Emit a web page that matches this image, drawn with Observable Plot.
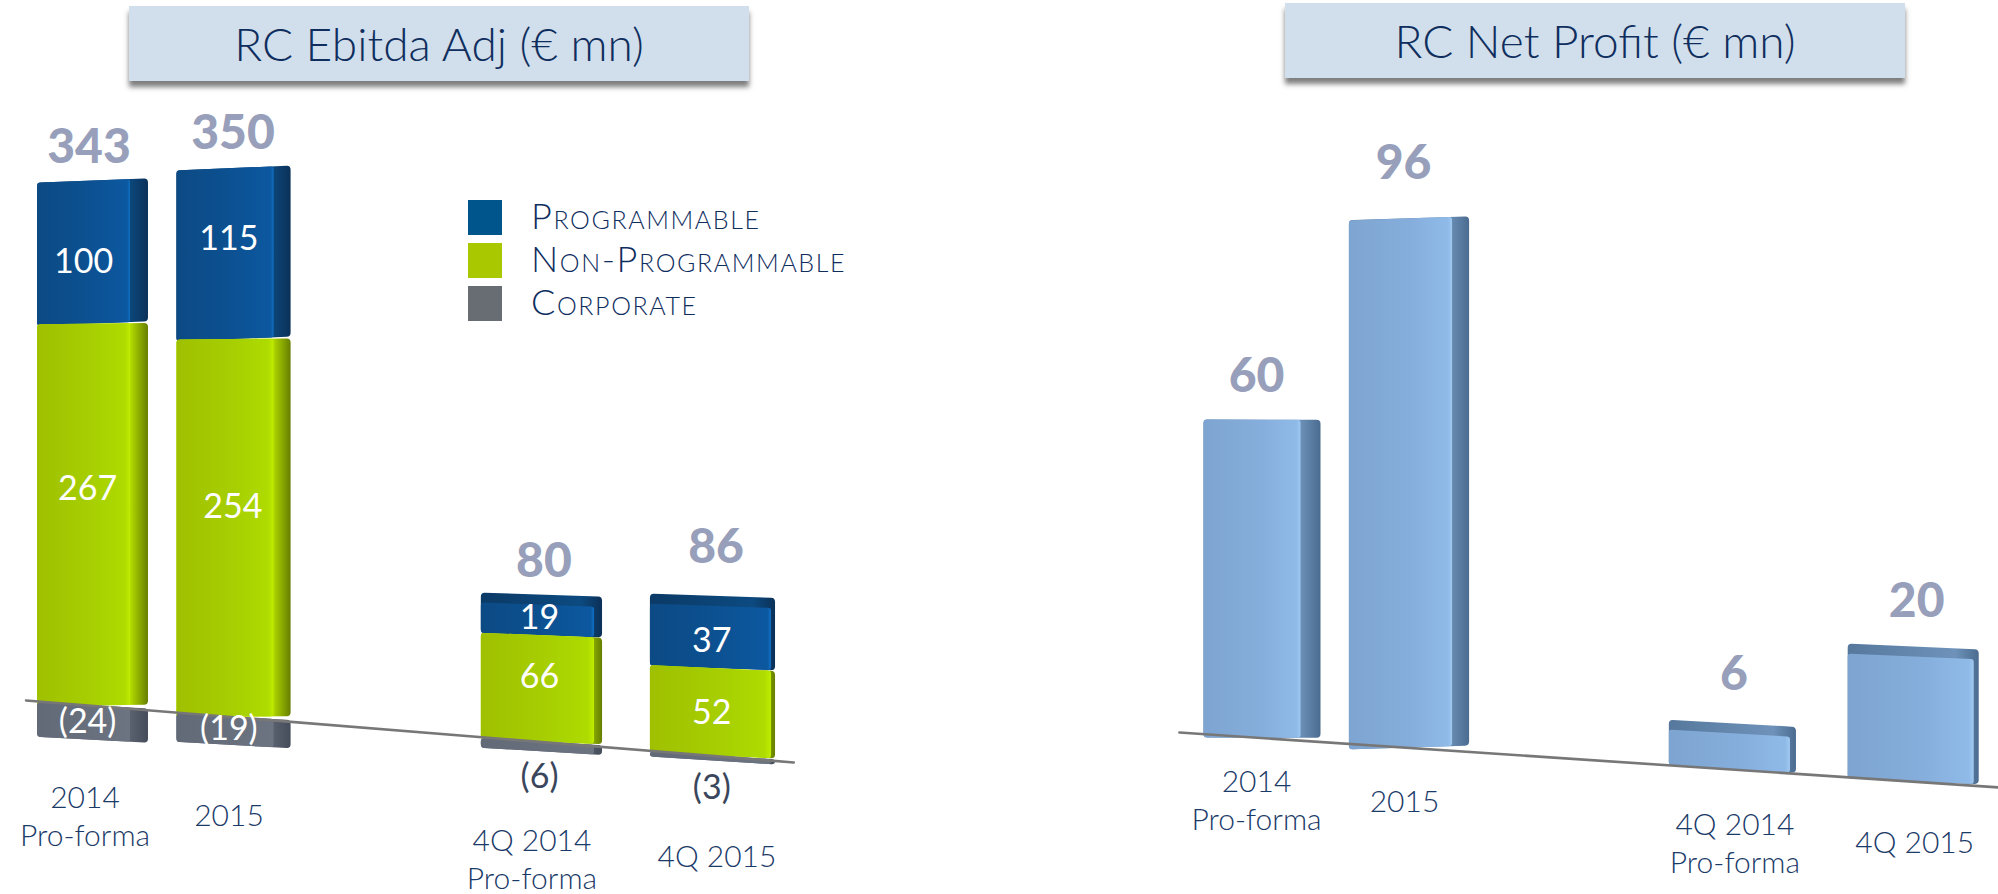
<!DOCTYPE html>
<html><head><meta charset="utf-8">
<script src="https://cdn.jsdelivr.net/npm/d3@7"></script>
<script src="https://cdn.jsdelivr.net/npm/@observablehq/plot@0.6"></script>
<style>
html,body{margin:0;background:#fff;}
#page{position:relative;width:1998px;height:894px;overflow:hidden;font-family:Lato,sans-serif;}
#page svg.plot{position:absolute;top:0;background:transparent;}
.title{position:absolute;height:75px;width:620px;background:#d1deeb;color:#0f2e5e;font-weight:300;font-size:46px;
 display:flex;align-items:center;justify-content:center;box-shadow:0 6px 5px rgba(40,40,40,.6);white-space:nowrap;}
.lg{position:absolute;left:468px;width:34px;height:35px;}
.lt{position:absolute;left:531px;color:#0f2e5e;font-weight:300;font-size:36px;letter-spacing:1.6px;font-variant:small-caps;line-height:35px;white-space:nowrap;}
</style></head>
<body>
<svg width="0" height="0" style="position:absolute"><defs>
<linearGradient id="gBlue"><stop offset="0" stop-color="#0c4a84"/><stop offset=".5" stop-color="#0c5090"/><stop offset=".97" stop-color="#0c58a0"/><stop offset="1" stop-color="#1070c4"/></linearGradient>
<linearGradient id="gGreen"><stop offset="0" stop-color="#9fc000"/><stop offset=".6" stop-color="#a7cf02"/><stop offset=".94" stop-color="#aedb00"/><stop offset="1" stop-color="#bfec00"/></linearGradient>
<linearGradient id="gGrey"><stop offset="0" stop-color="#626a78"/><stop offset="1" stop-color="#6c7482"/></linearGradient>
<linearGradient id="gSky"><stop offset="0" stop-color="#7ea5d1"/><stop offset=".6" stop-color="#86aedc"/><stop offset=".96" stop-color="#8fbae8"/><stop offset="1" stop-color="#a0c8f0"/></linearGradient>
<linearGradient id="sBlue"><stop offset="0" stop-color="#0b3a66"/><stop offset=".82" stop-color="#0c4a80"/><stop offset="1" stop-color="#0b3158"/></linearGradient>
<linearGradient id="sGreen"><stop offset=".82" stop-color="#bfea00"/><stop offset=".88" stop-color="#a0c400"/><stop offset="1" stop-color="#667f00"/></linearGradient>
<linearGradient id="sGrey"><stop offset=".82" stop-color="#5c6472"/><stop offset="1" stop-color="#454d5a"/></linearGradient>
<linearGradient id="sSky"><stop offset="0" stop-color="#56789c"/><stop offset=".82" stop-color="#6e92ba"/><stop offset="1" stop-color="#4b6c90"/></linearGradient>
</defs></svg>
<div id="page"></div>
<script>
// ---- data ----
const periods = ["2014\nPro-forma", "2015", "4Q 2014\nPro-forma", "4Q 2015"];
const programmable = [100, 115, 19, 37];
const nonProgrammable = [267, 254, 66, 52];
const corporate = [-24, -19, -6, -3];
const ebitdaTotals = [343, 350, 80, 86];
const netProfit = [60, 96, 6, 20];
const seriesNames = ["Programmable", "Non-Programmable", "Corporate"];
const seriesColors = ["#00568c", "#aac800", "#686d74"];
const titles = ["RC Ebitda Adj (€ mn)", "RC Net Profit (€ mn)"];

// ---- layout of the two tilted panels ----
const page = document.getElementById("page");
const FONT = "Lato, sans-serif";
const NAVY = "#1a3a68";
const TOTAL = "#979fbb";

const leftLayout = {
  left: 0, width: 950, x0: 92.5, xUnit: 141, y0: 705.4, yUnit: 1.43, drop: 7.96,
  slots: [0, 1, 3.184, 4.397], widthBase: .787, widthGrow: .0228,
  side: [18, 17, 8, 4], cap: [0, 0, 10, 10],
  lineFrom: -0.475, lineTo: 4.97,
  totalLift: [18, 20, 28, 43], totalDx: [-4, -1, 2, 3],
  catDrop: [75, 82, 82, 84], catDx: [-8, -5, -10, 4]
};
const rightLayout = {
  left: 1100, width: 898, x0: 162, xUnit: 147, y0: 737.6, yUnit: 5.3, drop: 1.86,
  slots: [0, 1, 3.2, 4.43], widthBase: .796, widthGrow: .0215,
  side: [20, 17, 6, 5], cap: [0, 0, 10, 10],
  lineFrom: -0.565, lineTo: 5.1,
  totalLift: [28, 40, 44, 40], totalDx: [-6, -6, 1, 3],
  catDrop: [27, 37, 38, 44], catDx: [-6, -5, 2, 1]
};
// px shift of the labels inside the stacks, relative to each segment's middle
const blueShift = [10, -15, -2, 4];
const greenShift = [-26, -21, -12, 1];
const greyShift = [-1, -2, 30, 30];
const blueDx = [-4, 0, 0, 0];
const greenDx = [0, 4, 0, 0];

function panel(L, stacks, totals, labels) {
  const growth = s => 1 + .04 * s;
  const yAt = (s, v) => -L.drop * s + v * growth(s);
  const pxY = () => 1 / L.yUnit;
  const marks = [];
  const skew = slot => ({
    render(index, scales, values, dims, ctx, next) {
      const g = next(index, scales, values, dims, ctx);
      const cx = scales.x(slot);
      g.querySelectorAll("rect").forEach(r => {
        const y = +r.getAttribute("y");
        const k = -0.04 + (y - 172) * 0.000175;
        r.setAttribute("transform", `matrix(1 ${k} 0 1 0 ${-k * cx})`);
      });
      return g;
    }
  });
  const textRows = [];
  L.slots.forEach((s, i) => {
    const w = L.widthBase + L.widthGrow * s;
    stacks.forEach(st => {
      const lo = st.from(i), hi = st.to(i);
      const y1 = yAt(s, lo), y2 = yAt(s, hi);
      const datum = [{x1: s - w / 2, x2: s + w / 2, y1, y2}];
      marks.push(Plot.rect([{...datum[0], y2: y2 + (st.top ? L.cap[i] * pxY() : 0)}], {
        x1: "x1", x2: "x2", y1: "y1", y2: "y2", fill: st.side, rx: 4, ry: 4, ...skew(s)
      }));
      marks.push(Plot.rect(datum, {
        x1: "x1", x2: "x2", y1: "y1", y2: "y2", fill: st.fill, rx: 3, ry: 3,
        insetRight: L.side[i], ...skew(s)
      }));
      if (st.label) textRows.push({
        x: s + (st.dx[i] - L.side[i] * .3) / L.xUnit,
        y: (y1 + y2) / 2 - st.shift[i] * pxY(),
        text: st.label(i), fill: st.textFill ? st.textFill(i) : "#fff"
      });
    });
  });
  // sloping ground line
  marks.push(Plot.line([L.lineFrom, L.lineTo], {
    x: d => d, y: d => -L.drop * d, stroke: "#777", strokeWidth: 2.6
  }));
  // segment labels
  marks.push(Plot.text(textRows, {
    x: "x", y: "y", text: "text", fill: d => d.fill, fontFamily: FONT, fontSize: 34, fontWeight: 400,
    lineAnchor: "middle"
  }));
  // bold totals
  marks.push(Plot.text(totals, {
    x: (d, i) => L.slots[i] + L.totalDx[i] / L.xUnit,
    y: (d, i) => yAt(L.slots[i], stacks.topValue(i)) + L.totalLift[i] * pxY(),
    text: d => String(d), fill: TOTAL, fontFamily: FONT, fontSize: 48, fontWeight: 900, lineAnchor: "bottom"
  }));
  // period labels below the ground line
  marks.push(Plot.text(labels, {
    x: (d, i) => L.slots[i] + L.catDx[i] / L.xUnit,
    y: (d, i) => -L.drop * L.slots[i] - L.catDrop[i] * pxY(),
    text: d => d, fill: NAVY, fontFamily: FONT, fontSize: 30, fontWeight: 300,
    lineAnchor: "top", lineHeight: 1.27
  }));
  const svg = Plot.plot({
    width: L.width, height: 894, margin: 0,
    x: {axis: null, domain: [0, 1], range: [L.x0, L.x0 + L.xUnit]},
    y: {axis: null, domain: [0, 100], range: [L.y0, L.y0 - 100 * L.yUnit]},
    color: {type: "identity"},
    marks
  });
  svg.classList.add("plot");
  svg.style.left = L.left + "px";
  svg.style.maxWidth = "none";
  page.appendChild(svg);
}

const fmtNeg = v => `(${-v})`;
const leftStacks = [
  {from: i => nonProgrammable[i], to: i => nonProgrammable[i] + programmable[i], fill: "url(#gBlue)", side: "url(#sBlue)", top: true,
   label: i => String(programmable[i]), shift: blueShift, dx: blueDx},
  {from: () => 0, to: i => nonProgrammable[i], fill: "url(#gGreen)", side: "url(#sGreen)",
   label: i => String(nonProgrammable[i]), shift: greenShift, dx: greenDx},
  {from: i => corporate[i], to: () => 0, fill: "url(#gGrey)", side: "url(#sGrey)",
   label: i => fmtNeg(corporate[i]), shift: greyShift, dx: [0, 0, 0, 0], textFill: i => i < 2 ? "#fff" : "#3a465c"}
];
leftStacks.topValue = i => nonProgrammable[i] + programmable[i];
panel(leftLayout, leftStacks, ebitdaTotals, periods);

const rightStacks = [
  {from: () => 0, to: i => netProfit[i], fill: "url(#gSky)", side: "url(#sSky)", top: true}
];
rightStacks.topValue = i => netProfit[i];
panel(rightLayout, rightStacks, netProfit, periods);

// titles and legend
[[129, 6], [1285, 3]].forEach(([x, y], i) => {
  const d = document.createElement("div");
  d.className = "title"; d.style.left = x + "px"; d.style.top = y + "px";
  d.textContent = titles[i];
  page.appendChild(d);
});
seriesNames.forEach((n, i) => {
  const top = 200 + 43 * i;
  const s = document.createElement("div");
  s.className = "lg"; s.style.top = top + "px"; s.style.background = seriesColors[i];
  const t = document.createElement("div");
  t.className = "lt"; t.style.top = (top - 2) + "px"; t.textContent = n;
  page.appendChild(s); page.appendChild(t);
});
</script>
</body></html>
